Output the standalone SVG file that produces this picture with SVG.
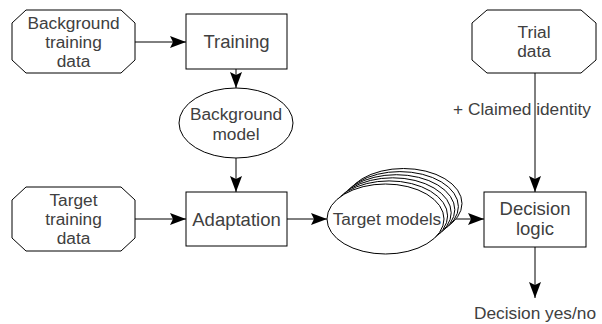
<svg xmlns="http://www.w3.org/2000/svg" width="602" height="324" viewBox="0 0 602 324">
  <defs>
    <marker id="arrow" markerUnits="userSpaceOnUse" markerWidth="16" markerHeight="12" refX="16" refY="6" orient="auto">
      <path d="M0,0 L16,6 L0,12 L3,6 Z" fill="#000"/>
    </marker>
  </defs>
  <style>
    .shape { fill: #fff; stroke: #000; stroke-width: 1; }
    .lbl { font-family: "Liberation Sans", Arial, sans-serif; font-size: 17.3px; fill: #404040; text-anchor: middle; }
    .big { font-size: 18.5px; }
    .conn { stroke: #000; stroke-width: 1; fill: none; marker-end: url(#arrow); }
  </style>
  <rect width="602" height="324" fill="#fff"/>

  <!-- connectors -->
  <g id="connectors">
    <line class="conn" x1="135" y1="42" x2="186" y2="42"/>
    <line class="conn" x1="236" y1="69" x2="236" y2="88"/>
    <line class="conn" x1="236" y1="158" x2="236" y2="192"/>
    <line class="conn" x1="135" y1="219" x2="186" y2="219"/>
    <line class="conn" x1="287" y1="219" x2="327" y2="219"/>
    <line class="conn" x1="444" y1="219" x2="484" y2="219"/>
    <line class="conn" x1="535" y1="73" x2="535" y2="192"/>
    <line class="conn" x1="535" y1="247" x2="535" y2="298"/>
  </g>

  <g id="background-training-data">
    <polygon class="shape" points="26,10 121,10 135,23 135,60 121,73 26,73 12,60 12,23"/>
    <text class="lbl" x="73.5" y="28.5">Background</text>
    <text class="lbl" x="73.5" y="47.5">training</text>
    <text class="lbl" x="73.5" y="66.5">data</text>
  </g>

  <g id="training">
    <rect class="shape" x="186" y="14" width="101" height="55"/>
    <text class="lbl big" x="236.5" y="48">Training</text>
  </g>

  <g id="background-model">
    <ellipse class="shape" cx="236" cy="123" rx="57" ry="35"/>
    <text class="lbl" x="236" y="120">Background</text>
    <text class="lbl" x="236" y="139.5">model</text>
  </g>

  <g id="target-training-data">
    <polygon class="shape" points="26,187 121,187 135,200 135,238 121,251 26,251 12,238 12,200"/>
    <text class="lbl" x="73.5" y="206">Target</text>
    <text class="lbl" x="73.5" y="225">training</text>
    <text class="lbl" x="73.5" y="244">data</text>
  </g>

  <g id="adaptation">
    <rect class="shape" x="186" y="192" width="101" height="54"/>
    <text class="lbl big" x="236.5" y="226">Adaptation</text>
  </g>

  <!-- stack of target models, drawn back to front -->
  <g id="target-models">
    <ellipse class="shape" cx="403.5" cy="203.5" rx="58.5" ry="35"/>
    <ellipse class="shape" cx="399.9" cy="206.6" rx="58.5" ry="35"/>
    <ellipse class="shape" cx="396.3" cy="209.7" rx="58.5" ry="35"/>
    <ellipse class="shape" cx="392.7" cy="212.8" rx="58.5" ry="35"/>
    <ellipse class="shape" cx="389.1" cy="215.9" rx="58.5" ry="35"/>
    <ellipse class="shape" cx="385.5" cy="219" rx="58.5" ry="35"/>
    <text class="lbl" x="387" y="225">Target models</text>
  </g>

  <g id="trial-data">
    <polygon class="shape" points="487,10 581,10 596,23 596,60 581,73 487,73 472,60 472,23"/>
    <text class="lbl" x="534" y="37.5">Trial</text>
    <text class="lbl" x="534" y="57">data</text>
  </g>

  <g id="claimed-identity">
    <text class="lbl" x="522" y="115">+ Claimed identity</text>
  </g>

  <g id="decision-logic">
    <rect class="shape" x="484" y="192" width="102" height="55"/>
    <text class="lbl big" x="535" y="215">Decision</text>
    <text class="lbl big" x="535" y="235">logic</text>
  </g>

  <g id="decision-output">
    <text class="lbl" x="535" y="319">Decision yes/no</text>
  </g>
</svg>
